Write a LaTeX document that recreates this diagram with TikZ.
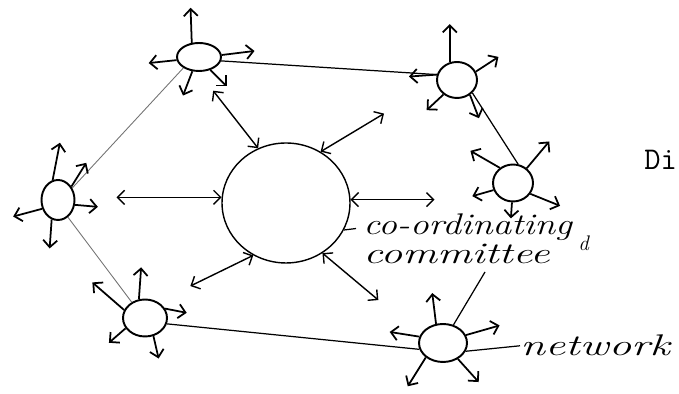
\documentclass[tikz,border=0pt]{standalone}
\usetikzlibrary{arrows.meta, shapes.geometric}

\newcommand{\scrawl}[2][1.25]{\scalebox{#1}[1]{#2}}

\begin{document}
\begin{tikzpicture}[
    x=0.02cm, y=0.02cm,
    cell/.style={
        ellipse, draw, line width=1.1pt, inner sep=0pt,
    },
    spoke/.style={
        -{Straight Barb[length=4pt, width=8pt]}, line width=1pt,
    },
    duplex/.style={
        {Straight Barb[length=4pt, width=8pt]}-{Straight Barb[length=4pt, width=8pt]},
        line width=0.8pt,
    },
    link/.style={line width=0.7pt},
    faint/.style={line width=0.5pt, black!55},
    hand/.style={
        font=\fontsize{17}{17}\selectfont\itshape, inner sep=0pt, anchor=base west,
    },
]
\useasboundingbox (0,0) rectangle (679,394);

% --- Coordinating committee ---
\node[ellipse, draw, line width=0.8pt, minimum width=2.56cm, minimum height=2.4cm] (hub) at (286,191) {};

% --- Network cells ---
\node[cell, minimum width=0.88cm, minimum height=0.56cm] (n1) at (199,337) {};
\node[cell, minimum width=0.80cm, minimum height=0.72cm] (n2) at (457,314) {};
\node[cell, minimum width=0.80cm, minimum height=0.74cm] (n3) at (513,211) {};
\node[cell, minimum width=0.66cm, minimum height=0.80cm] (n4) at (58,194) {};
\node[cell, minimum width=0.88cm, minimum height=0.74cm] (n5) at (145,76) {};
\node[cell, minimum width=0.96cm, minimum height=0.76cm] (n6) at (443,51) {};

% --- Labels ---
\node[hand] (lblco) at (363,159) {\scrawl{co-ordinating}};
\node[hand] (lblcomm) at (363,130) {\scrawl[1.45]{committee}};
\node[hand, font=\fontsize{12}{12}\selectfont\itshape] (lbld) at (578,143) {d};
\node[hand] (lblnet) at (520,38) {\scrawl[1.5]{network}};
\node[font=\ttfamily\fontsize{18}{18}\selectfont, anchor=base west, inner sep=0pt] (di) at (644,224) {Di};
\coordinate (cmtfoot) at (485,122);

% --- Ring of links ---
\draw[link] (n1.350) -- (n2.165);
\draw[link] (n2.320) -- (n3.75);
\draw[faint] (n1.215) -- (n4.40);
\draw[faint] (n4.300) -- (n5.130);
\draw[link] (n5.345) -- (n6.195);
\draw[link] (n6.60) -- (cmtfoot);
\draw[link] (n6.340) -- (lblnet.west);
\draw[link, shorten >=4pt] (hub.335) -- (lblco.west);

% --- Two-way arrows from the committee ---
\foreach \a/\d/\l in {117/128/73, 56/31/74, 175/180/105, 3/0/84, 238/206/70, 306/320/73}
    \draw[duplex] (hub.\a) -- ++(\d:\l);

% --- Arrows out of each cell ---
\foreach \a/\d/\l in {117/92/35, 5/7/33, 188/186/28, 245/249/26, 311/315/23}
    \draw[spoke] (n1.\a) -- ++(\d:\l);
\foreach \a/\d/\l in {112/90/38, 24/33/27, 165/184/28, 227/223/23, 311/291/25}
    \draw[spoke] (n2.\a) -- ++(\d:\l);
\foreach \a/\d/\l in {131/150/34, 47/50/35, 200/196/22, 267/266/16, 328/338/32}
    \draw[spoke] (n3.\a) -- ++(\d:\l);
\foreach \a/\d/\l in {105/79/38, 45/58/28, 344/355/23, 209/195/30, 252/266/29}
    \draw[spoke] (n4.\a) -- ++(\d:\l);
\foreach \a/\d/\l in {108/86/32, 159/139/42, 25/349/22, 208/221/22, 295/283/23}
    \draw[spoke] (n5.\a) -- ++(\d:\l);
\foreach \a/\d/\l in {110/97/31, 165/171/30, 19/16/35, 220/238/34, 313/312/31}
    \draw[spoke] (n6.\a) -- ++(\d:\l);

\end{tikzpicture}
\end{document}
